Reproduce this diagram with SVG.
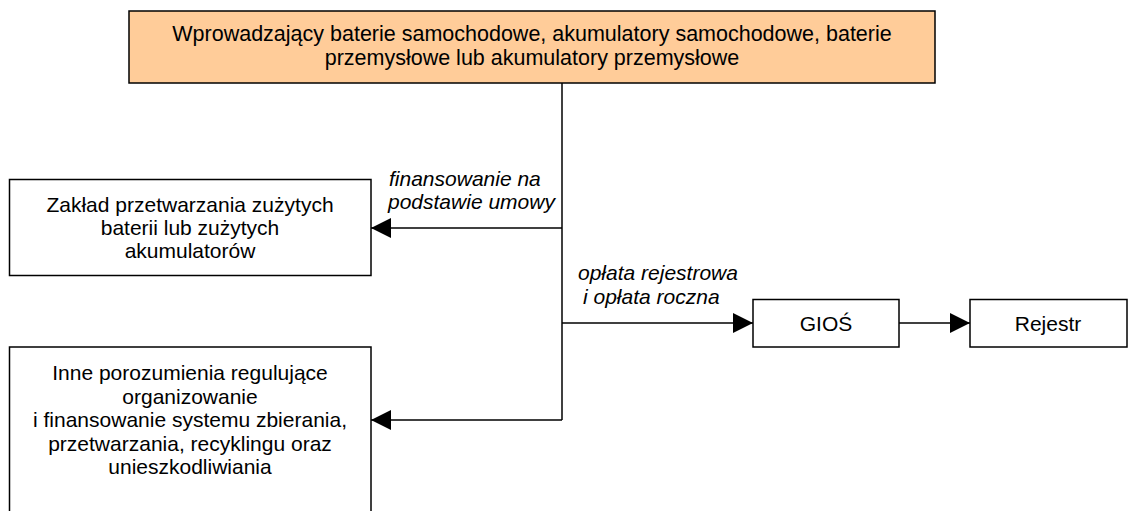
<svg xmlns="http://www.w3.org/2000/svg" width="1128" height="511" viewBox="0 0 1128 511">
<style>
.box{fill:#fff;stroke:#000;stroke-width:1.5}
.t{font-family:"Liberation Sans",Arial,sans-serif;font-size:21px;fill:#000;text-anchor:middle}
.top{font-size:21.5px}
.lbl{font-family:"Liberation Sans",Arial,sans-serif;font-size:21px;font-style:italic;fill:#000}
.c{fill:none;stroke:#000;stroke-width:1.5}
</style>
<defs>
<marker id="ah" viewBox="0 0 10 10" refX="10" refY="5" markerWidth="20" markerHeight="20" markerUnits="userSpaceOnUse" orient="auto">
<path d="M0,0 L10,5 L0,10 Z" fill="#000"/>
</marker>
</defs>
<rect width="1128" height="511" fill="#fff"/>
<g id="connectors">
<path class="c" d="M562,83 V420"/>
<path class="c" d="M562,228 H371" marker-end="url(#ah)"/>
<path class="c" d="M562,323 H753" marker-end="url(#ah)"/>
<path class="c" d="M562,420 H371" marker-end="url(#ah)"/>
<path class="c" d="M899,323 H970" marker-end="url(#ah)"/>
<text class="lbl" x="389" y="186">finansowanie na</text>
<text class="lbl" x="388" y="209">podstawie umowy</text>
<text class="lbl" x="578" y="280">opłata rejestrowa</text>
<text class="lbl" x="583" y="304">i opłata roczna</text>
</g>
<g id="wprowadzajacy">
<rect x="129" y="11" width="806" height="72" fill="#FFCC99" stroke="#000" stroke-width="1.5"/>
<text class="t top" x="532" y="41">Wprowadzający baterie samochodowe, akumulatory samochodowe, baterie</text>
<text class="t top" x="532" y="65">przemysłowe lub akumulatory przemysłowe</text>
</g>
<g id="zaklad">
<rect class="box" x="9.5" y="179.5" width="361.5" height="96"/>
<text class="t" x="190" y="212">Zakład przetwarzania zużytych</text>
<text class="t" x="190" y="235">baterii lub zużytych</text>
<text class="t" x="190" y="258">akumulatorów</text>
</g>
<g id="inne">
<rect class="box" x="9.5" y="347" width="361.5" height="170"/>
<text class="t" x="190" y="380">Inne porozumienia regulujące</text>
<text class="t" x="190" y="403.5">organizowanie</text>
<text class="t" x="190" y="427">i finansowanie systemu zbierania,</text>
<text class="t" x="190" y="450.5">przetwarzania, recyklingu oraz</text>
<text class="t" x="190" y="474">unieszkodliwiania</text>
</g>
<g id="gios">
<rect class="box" x="753" y="299.5" width="146" height="47.5"/>
<text class="t" x="826" y="331">GIOŚ</text>
</g>
<g id="rejestr">
<rect class="box" x="970" y="299.5" width="157" height="47.5"/>
<text class="t" x="1048" y="331">Rejestr</text>
</g>
</svg>
